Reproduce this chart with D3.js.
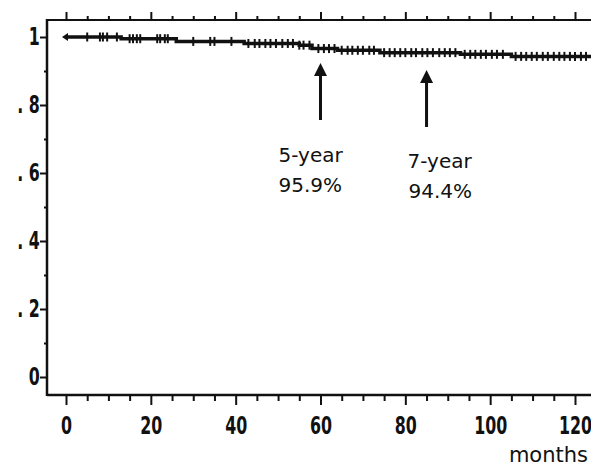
<!DOCTYPE html>
<html>
<head>
<meta charset="utf-8">
<script src="https://cdn.jsdelivr.net/npm/d3@7"></script>
<style>
  body { margin: 0; background: #fff; }
  svg { display: block; }
  .tick text { font-family: "DejaVu Sans", sans-serif; font-weight: bold; font-size: 24px; fill: #111; }
  .tick line { stroke: #111; stroke-width: 2; }
  .note { font-family: "DejaVu Sans", sans-serif; font-size: 20px; fill: #111; }
</style>
</head>
<body>
<div id="chart"></div>
<script>
// survival steps (months, proportion surviving)
var stepMonths = [0, 13, 26, 42, 55, 58, 64, 74, 93, 105, 124];
var stepSurv   = [1.000, 0.995, 0.987, 0.981, 0.976, 0.966, 0.961, 0.954, 0.949, 0.943, 0.943];

// censored observations (months)
var censored = [5, 8, 8.7, 9.7, 12, 15, 15.8, 16.7, 17.5, 21.5, 22.2, 23.3, 24, 30, 34, 35, 39,
    43, 44.5, 45.6, 47, 48.2, 49.5, 51, 52.3, 53.5, 55, 56, 57.4, 59.5, 60.8, 62, 63.3, 65, 66.4,
    67.5, 68.8, 70, 71.5, 72.6, 75, 76.3, 77.5, 78.8, 80, 81.4, 82.5, 84, 85.2, 86.5, 88, 89.3,
    90.5, 91.8, 94, 95.3, 96.5, 97.8, 99, 100.4, 101.6, 103, 106, 107.3, 108.5, 109.8, 111, 112.4,
    113.6, 115, 116.3, 117.5, 118.8, 120, 121.4, 122.6];

var xMajor = [0, 20, 40, 60, 80, 100, 120];
var xMinor = [5, 10, 15, 25, 30, 35, 45, 50, 55, 65, 70, 75, 85, 90, 95, 105, 110, 115];
var yMajor = [0, 0.2, 0.4, 0.6, 0.8, 1];
var yLabels = ["0", ". 2", ". 4", ". 6", ". 8", "1"];
var yMinor = [0.1, 0.3, 0.5, 0.7, 0.9];

var notes = [
    {month: 60, line1: "5-year", line2: "95.9%"},
    {month: 85, line1: "7-year", line2: "94.4%"}
];

var width = 591, height = 468;
var frameLeft = 47, frameTop = 20, frameBottom = 395;

var svg = d3.select("#chart").append("svg")
    .attr("width", width)
    .attr("height", height);

var x = d3.scaleLinear().domain([0, 120]).range([66, 575]);
var y = d3.scaleLinear().domain([0, 1]).range([377, 37]);

//narrow the tick numbers (the original face is condensed)
function squeeze(g) {
    g.select(".domain").remove();
    g.selectAll(".tick text").attr("transform", "scale(0.66,1)");
}

//frame lines
svg.append("line").attr("x1", frameLeft).attr("x2", width)
    .attr("y1", frameTop).attr("y2", frameTop)
    .attr("stroke", "#111").attr("stroke-width", 2);
svg.append("line").attr("x1", frameLeft).attr("x2", width)
    .attr("y1", frameBottom).attr("y2", frameBottom)
    .attr("stroke", "#111").attr("stroke-width", 2.5);
svg.append("line").attr("x1", frameLeft).attr("x2", frameLeft)
    .attr("y1", frameTop - 1).attr("y2", frameBottom + 1)
    .attr("stroke", "#111").attr("stroke-width", 2.5);

//bottom axis
svg.append("g")
    .attr("transform", "translate(0," + frameBottom + ")")
    .call(d3.axisBottom(x).tickValues(xMajor).tickSize(10).tickPadding(12).tickFormat(d3.format("d")))
    .call(squeeze);
svg.append("g")
    .attr("transform", "translate(0," + frameBottom + ")")
    .call(d3.axisBottom(x).tickValues(xMinor).tickSize(6).tickFormat(""))
    .call(squeeze);

//top axis (mirror ticks, no labels)
svg.append("g")
    .attr("transform", "translate(0," + frameTop + ")")
    .call(d3.axisTop(x).tickValues(xMajor).tickSize(8).tickFormat(""))
    .call(squeeze);
svg.append("g")
    .attr("transform", "translate(0," + frameTop + ")")
    .call(d3.axisTop(x).tickValues(xMinor).tickSize(4).tickFormat(""))
    .call(squeeze);

//left axis
svg.append("g")
    .attr("transform", "translate(" + frameLeft + ",0)")
    .call(d3.axisLeft(y).tickValues(yMajor).tickSize(7).tickPadding(4)
        .tickFormat(function(d, i) { return yLabels[i]; }))
    .call(squeeze);
svg.append("g")
    .attr("transform", "translate(" + frameLeft + ",0)")
    .call(d3.axisLeft(y).tickValues(yMinor).tickSize(3).tickFormat(""))
    .call(squeeze);

//survival curve
var pts = stepMonths.map(function(m, i) { return [m, stepSurv[i]]; });
svg.append("path")
    .datum(pts)
    .attr("fill", "none")
    .attr("stroke", "#111")
    .attr("stroke-width", 3.5)
    .attr("d", d3.line()
        .x(function(d) { return x(d[0]); })
        .y(function(d) { return y(d[1]); })
        .curve(d3.curveStepAfter));

//censor marks
var bis = d3.bisector(function(d) { return d; }).right;
function survAt(m) { return stepSurv[Math.max(0, bis(stepMonths, m) - 1)]; }
svg.append("g").selectAll("line")
    .data(censored)
    .enter()
    .append("line")
    .attr("x1", function(d) { return x(d); })
    .attr("x2", function(d) { return x(d); })
    .attr("y1", function(d) { return y(survAt(d)) - 4.5; })
    .attr("y2", function(d) { return y(survAt(d)) + 4.5; })
    .attr("stroke", "#111")
    .attr("stroke-width", 2);

//start arrowhead-like end
svg.append("path")
    .attr("d", "M" + (x(0) - 4) + "," + y(1) + "l6,-4l0,8z")
    .attr("fill", "#111");

//arrows + notes
var tipOffset = [63, 70], tailOffset = [120, 127], textTop = [162, 168];
notes.forEach(function(n, i) {
    var ax = x(n.month);
    svg.append("line")
        .attr("x1", ax).attr("x2", ax)
        .attr("y1", tailOffset[i]).attr("y2", tipOffset[i] + 10)
        .attr("stroke", "#111").attr("stroke-width", 3);
    svg.append("path")
        .attr("d", "M" + ax + "," + tipOffset[i] + "l6.5,13l-13,0z")
        .attr("fill", "#111");
    svg.append("text").attr("class", "note")
        .attr("x", ax - 42 + i * 23).attr("y", textTop[i])
        .text(n.line1);
    svg.append("text").attr("class", "note")
        .attr("x", ax - 42 + i * 24).attr("y", textTop[i] + 30)
        .text(n.line2);
});

svg.append("text").attr("class", "note")
    .attr("x", 588).attr("y", 462)
    .attr("text-anchor", "end")
    .style("font-size", "21px")
    .text("months");
</script>
</body>
</html>
